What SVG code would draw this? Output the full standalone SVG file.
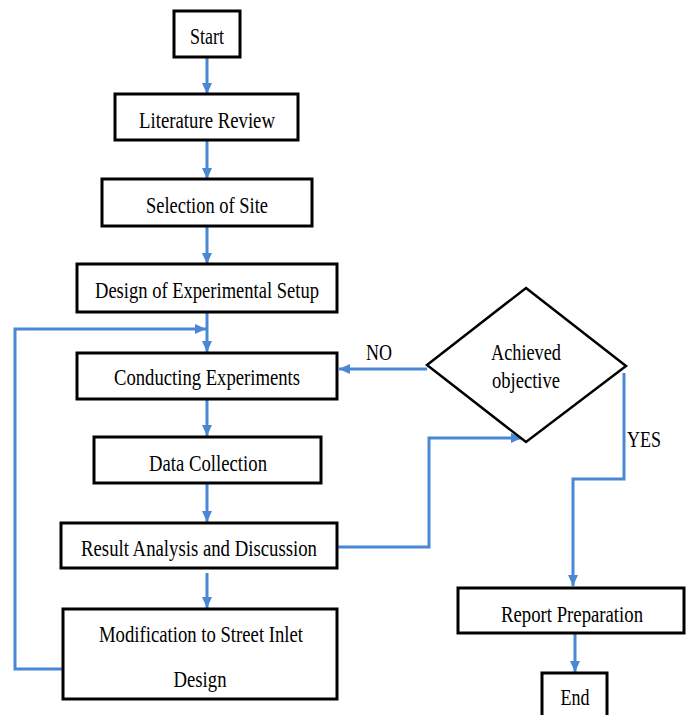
<svg xmlns="http://www.w3.org/2000/svg" width="692" height="715" viewBox="0 0 692 715">
<style>
.box{fill:#fff;stroke:#000;stroke-width:3}
.t{font-family:"Liberation Serif","Times New Roman",serif;font-size:23px;fill:#000;text-anchor:middle}
.c{fill:none;stroke:#4a88d6;stroke-width:3}
</style>
<defs>
<marker id="ah" markerUnits="userSpaceOnUse" markerWidth="11" markerHeight="10" refX="11" refY="5" orient="auto">
<path d="M0,0 L11,5 L0,10 z" fill="#4a88d6"/>
</marker>
</defs>
<rect width="692" height="715" fill="#fff"/>
<g id="connectors">
<path class="c" d="M207,57 L207,94" marker-end="url(#ah)"/>
<path class="c" d="M207,140 L207,179" marker-end="url(#ah)"/>
<path class="c" d="M207,226 L207,264" marker-end="url(#ah)"/>
<path class="c" d="M207,312 L207,352" marker-end="url(#ah)"/>
<path class="c" d="M63,669 L15,669 L15,329 L206,329" marker-end="url(#ah)"/>
<path class="c" d="M207,399 L207,436" marker-end="url(#ah)"/>
<path class="c" d="M207,483 L207,522" marker-end="url(#ah)"/>
<path class="c" d="M207,573 L207,608" marker-end="url(#ah)"/>
<path class="c" d="M337,547 L429,547 L429,438 L522,438" marker-end="url(#ah)"/>
<path class="c" d="M427,369 L339,369" marker-end="url(#ah)"/>
<path class="c" d="M624,373 L624,479 L573,479 L573,586" marker-end="url(#ah)"/>
<path class="c" d="M575,633 L575,672" marker-end="url(#ah)"/>
</g>
<g id="start">
<rect class="box" x="174" y="11" width="66" height="46"/>
<text class="t" x="207" y="44" font-size="24" textLength="34" lengthAdjust="spacingAndGlyphs">Start</text>
</g>
<g id="literature">
<rect class="box" x="115" y="94" width="183" height="46"/>
<text class="t" x="207" y="128" textLength="136" lengthAdjust="spacingAndGlyphs">Literature Review</text>
</g>
<g id="site">
<rect class="box" x="102" y="179" width="210" height="47"/>
<text class="t" x="207" y="213" textLength="122" lengthAdjust="spacingAndGlyphs">Selection of Site</text>
</g>
<g id="design">
<rect class="box" x="77" y="264" width="260" height="48"/>
<text class="t" x="207" y="298" textLength="224" lengthAdjust="spacingAndGlyphs">Design of Experimental Setup</text>
</g>
<g id="conducting">
<rect class="box" x="77" y="353" width="260" height="46"/>
<text class="t" x="207" y="385" textLength="186" lengthAdjust="spacingAndGlyphs">Conducting Experiments</text>
</g>
<g id="data">
<rect class="box" x="94" y="437" width="227" height="46"/>
<text class="t" x="208" y="471" textLength="118" lengthAdjust="spacingAndGlyphs">Data Collection</text>
</g>
<g id="result">
<rect class="box" x="61" y="523" width="276" height="45"/>
<text class="t" x="199" y="556" textLength="236" lengthAdjust="spacingAndGlyphs">Result Analysis and Discussion</text>
</g>
<g id="modification">
<rect class="box" x="63" y="609" width="274" height="90"/>
<text class="t" x="201" y="642" textLength="204" lengthAdjust="spacingAndGlyphs">Modification to Street Inlet</text>
<text class="t" x="200" y="687" textLength="53" lengthAdjust="spacingAndGlyphs">Design</text>
</g>
<g id="decision">
<polygon points="526,288 626,366 526,442 427,365" fill="#fff" stroke="#000" stroke-width="2.5"/>
<text class="t" x="526" y="360" textLength="70" lengthAdjust="spacingAndGlyphs">Achieved</text>
<text class="t" x="526" y="388" textLength="68" lengthAdjust="spacingAndGlyphs">objective</text>
</g>
<g id="labels">
<text class="t" x="379" y="360" textLength="26" lengthAdjust="spacingAndGlyphs">NO</text>
<text class="t" x="644" y="447" textLength="34" lengthAdjust="spacingAndGlyphs">YES</text>
</g>
<g id="report">
<rect class="box" x="458" y="588" width="226" height="45"/>
<text class="t" x="572" y="622" textLength="142" lengthAdjust="spacingAndGlyphs">Report Preparation</text>
</g>
<g id="end">
<rect class="box" x="542" y="673" width="65" height="50"/>
<text class="t" x="575" y="705" textLength="29" lengthAdjust="spacingAndGlyphs">End</text>
</g>
</svg>
